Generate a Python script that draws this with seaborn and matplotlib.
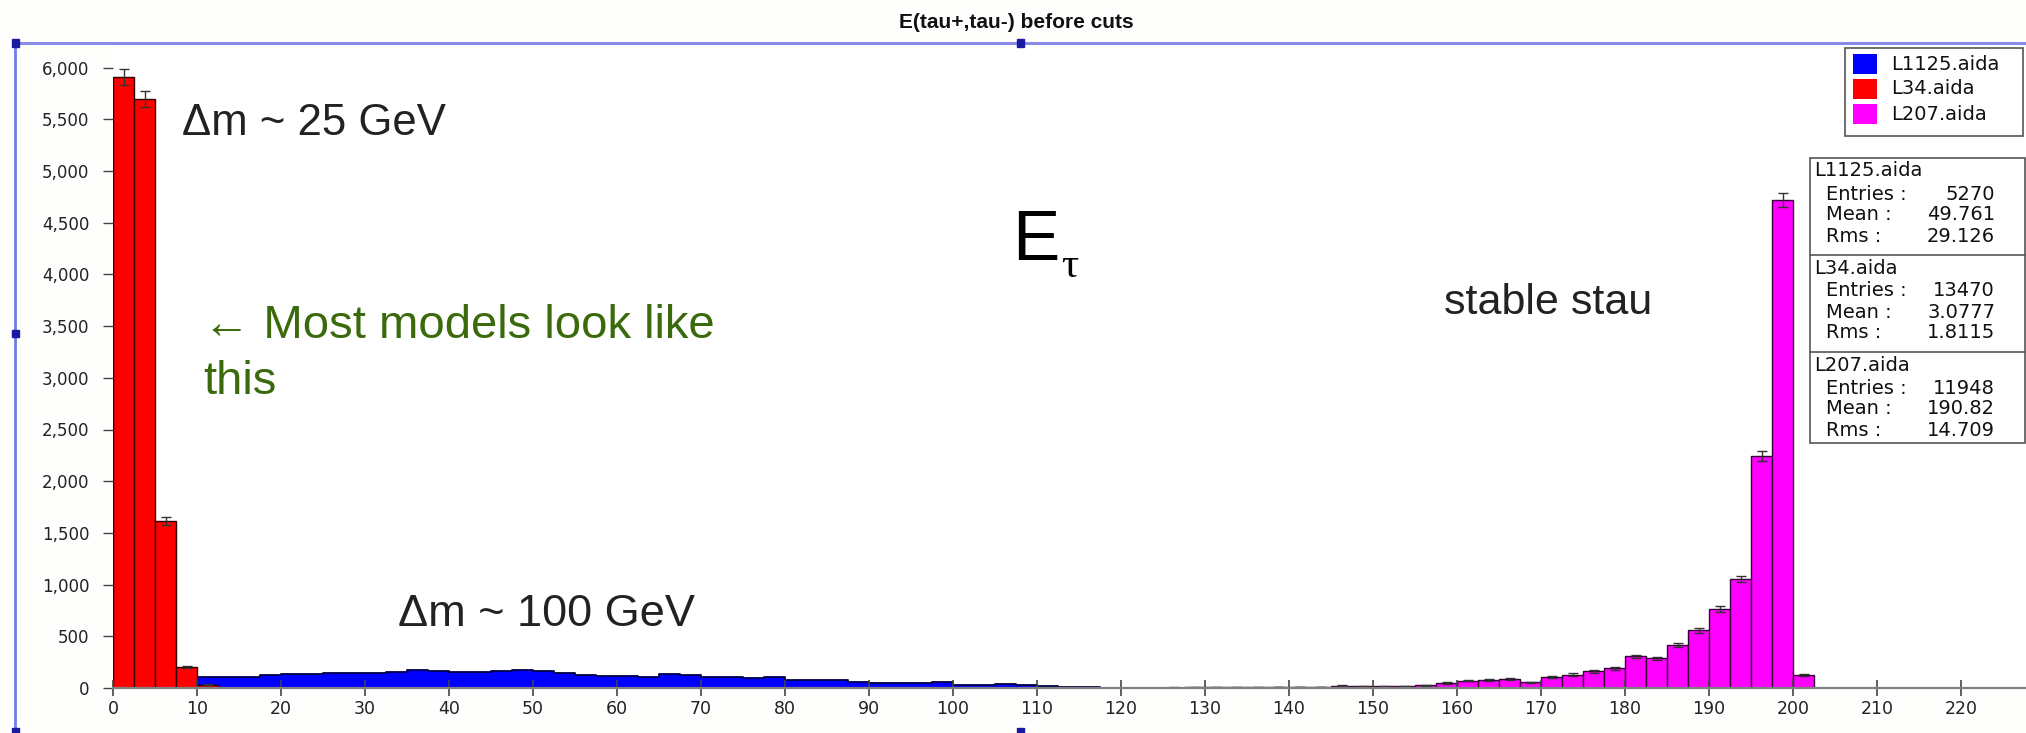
import numpy as np
import pandas as pd
import matplotlib
matplotlib.use("Agg")
import matplotlib.pyplot as plt
import seaborn as sns
from matplotlib.patches import Rectangle
from matplotlib.lines import Line2D

# ---------------- data ----------------
title = "E(tau+,tau-) before cuts"
bin_width = 2.5
series_names = ["L1125.aida", "L34.aida", "L207.aida"]
series_colors = ["#0000ff", "#ff0000", "#ff00ff"]

blue_start = 0.0
blue_counts = [110, 110, 112, 108,
               110, 105, 105, 130, 135, 132, 145, 148, 142, 152, 172, 168, 155, 150, 160, 178,
               165, 145, 125, 120, 112, 108, 135, 128, 105, 102, 100, 110, 80, 78, 75, 55, 48, 45, 50, 55,
               28, 32, 35, 28, 22, 12, 6, 4, 3, 2]

red_start = 0.0
red_counts = [5909, 5696, 1615, 203, 30]

magenta_start = 115.0
magenta_counts = [2, 2, 3, 3, 4, 5, 6, 6, 7, 8, 8, 10, 20, 18, 16, 18, 25, 50, 72, 80, 88, 55,
                  105, 130, 160, 189, 305, 286, 414, 559, 761, 1053, 2240, 4720, 126]

stats_entries = ["5270", "13470", "11948"]
stats_mean = ["49.761", "3.0777", "190.82"]
stats_rms = ["29.126", "1.8115", "14.709"]

y_ticks = list(range(0, 6001, 500))
x_ticks = list(range(0, 221, 10))

# ---------------- figure ----------------
W, H = 2026, 733
fig = plt.figure(figsize=(W / 100, H / 100), dpi=100)
fig.patch.set_facecolor("#fefefc")

def fx(px):
    return px / W

def fy(py):
    return 1 - py / H

x0_px, y0_px, top_px = 113, 688, 43
px_per_unit_x = 8.4
px_per_unit_y = 0.1034
ax = fig.add_axes([fx(x0_px), fy(y0_px), (W - x0_px) / W, (y0_px - top_px) / H])
ax.set_facecolor("#ffffff")


def make_df(start, counts):
    counts = np.asarray(counts, dtype=float)
    edges = start + bin_width * np.arange(len(counts) + 1)
    centers = edges[:-1] + bin_width / 2
    return pd.DataFrame({"x": centers, "n": counts}), [float(e) for e in edges]


df_b, e_b = make_df(blue_start, blue_counts)
df_r, e_r = make_df(red_start, red_counts)
df_m, e_m = make_df(magenta_start, magenta_counts)

sns.histplot(data=df_b, x="x", weights="n", bins=e_b, element="step", fill=True,
             color=series_colors[0], alpha=1.0, edgecolor="#000044", linewidth=1.3, ax=ax)
sns.histplot(data=df_m, x="x", weights="n", bins=e_m, element="bars", fill=True,
             color=series_colors[2], alpha=1.0, edgecolor="#330033", linewidth=1.0, ax=ax)
sns.histplot(data=df_r, x="x", weights="n", bins=e_r, element="bars", fill=True,
             color=series_colors[1], alpha=1.0, edgecolor="#300000", linewidth=1.0, ax=ax)

for d in (df_r, df_m):
    ax.errorbar(d["x"], d["n"], yerr=np.sqrt(d["n"]), fmt="none", ecolor="#333333",
                elinewidth=1.0, capsize=3.5, capthick=1.0)

ax.set_xlim(0, (W - x0_px) / px_per_unit_x)
ax.set_ylim(0, (y0_px - top_px) / px_per_unit_y)
ax.set_xlabel("")
ax.set_ylabel("")
for s in ("top", "right", "left"):
    ax.spines[s].set_visible(False)
ax.spines["bottom"].set_color("#808080")
ax.spines["bottom"].set_linewidth(1.6)

ax.set_yticks(y_ticks)
ax.set_yticklabels([f"{v:,}" for v in y_ticks])
ax.set_xticks(x_ticks)
ax.set_xticklabels([str(v) for v in x_ticks])
ax.tick_params(axis="y", direction="out", length=7, width=1.0, color="#444444",
               pad=10, labelsize=12, labelcolor="#222222")
ax.tick_params(axis="x", direction="inout", length=12, width=1.2, color="#444444",
               pad=3, labelsize=12.5, labelcolor="#222222")
for lab in ax.get_xticklabels() + ax.get_yticklabels():
    lab.set_fontfamily("DejaVu Sans")

# ---------------- frame (selection box) ----------------
frame_col = "#8a8ae8"
fig.add_artist(Line2D([fx(15), 1.0], [fy(43), fy(43)], color=frame_col, lw=2.2))
fig.add_artist(Line2D([fx(15), fx(15)], [fy(43), 0.0], color="#7777f0", lw=2.0))
for hx, hy in [(15, 43), (1020, 43), (15, 333), (15, 731), (1020, 731)]:
    fig.add_artist(Rectangle((fx(hx - 3.5), fy(hy + 3.5)), 7 / W, 7 / H,
                             transform=fig.transFigure, color="#1a1aa0", zorder=10))

# ---------------- title ----------------
fig.text(fx(1016), fy(22), title, ha="center", va="center", fontsize=15,
         fontweight="bold", family=["Liberation Sans", "DejaVu Sans"], color="#111111")

# ---------------- annotations ----------------
ann_font = ["Liberation Sans", "DejaVu Sans"]
fig.text(fx(182), fy(135), "Δm ~ 25 GeV", ha="left", va="baseline", fontsize=31.5,
         family=ann_font, color="#222222")
fig.text(fx(398), fy(626), "Δm ~ 100 GeV", ha="left", va="baseline", fontsize=32.5,
         family=ann_font, color="#222222")
fig.text(fx(1444), fy(314), "stable stau", ha="left", va="baseline", fontsize=31,
         family=ann_font, color="#222222")
fig.text(fx(1012), fy(260), "E", ha="left", va="baseline", fontsize=51,
         family=ann_font, color="#000000")
fig.text(fx(1061), fy(277), "τ", ha="left", va="baseline", fontsize=31,
         family=["Liberation Serif", "DejaVu Serif"], color="#000000")
green = "#3b6a0c"
fig.text(fx(203), fy(326), "← Most models look like", ha="left", va="center", fontsize=34,
         family=ann_font, color=green)
fig.text(fx(203), fy(382), "this", ha="left", va="center", fontsize=34,
         family=ann_font, color=green)

# ---------------- legend (drawn as a boxed key) ----------------
leg_l, leg_r, leg_t, leg_b = 1845, 2023, 48, 136
fig.add_artist(Rectangle((fx(leg_l), fy(leg_b)), (leg_r - leg_l) / W, (leg_b - leg_t) / H,
                         transform=fig.transFigure, facecolor="#ffffff", edgecolor="#555555",
                         lw=1.2, zorder=5))
for k, (c, n) in enumerate(zip(series_colors, series_names)):
    yc = 64 + 25 * k
    fig.add_artist(Rectangle((fx(1853), fy(yc + 10)), 24 / W, 20 / H,
                             transform=fig.transFigure, facecolor=c, edgecolor="none", zorder=6))
    fig.text(fx(1891), fy(yc), n, ha="left", va="center", fontsize=14,
             family="DejaVu Sans", color="#111111", zorder=7)

# ---------------- stats box ----------------
box_l, box_r = 1810, 2025
sec_tops = [158, 255, 352]
box_b = 443
box = Rectangle((fx(box_l), fy(box_b)), (box_r - box_l) / W, (box_b - sec_tops[0]) / H,
                transform=fig.transFigure, facecolor="#ffffff", edgecolor="#555555",
                lw=1.2, zorder=5)
fig.add_artist(box)
for st in sec_tops[1:]:
    fig.add_artist(Line2D([fx(box_l), fx(box_r)], [fy(st), fy(st)], color="#555555", lw=1.2,
                          zorder=6))
stat_font = dict(fontsize=14, family="DejaVu Sans", color="#111111", zorder=7, va="center")
for i, st in enumerate(sec_tops):
    fig.text(fx(box_l + 4), fy(st + 13), series_names[i], ha="left", **stat_font)
    rows = [("Entries :", stats_entries[i]), ("Mean :", stats_mean[i]), ("Rms :", stats_rms[i])]
    for j, (lab, val) in enumerate(rows):
        yy = st + 36 + 21 * j
        a = fig.text(fx(box_l + 16), fy(yy), lab, ha="left", **stat_font)
        b = fig.text(fx(1995), fy(yy), val, ha="right", **stat_font)
        a.set_clip_path(box)
        b.set_clip_path(box)

fig.savefig("out.png", dpi=100)
